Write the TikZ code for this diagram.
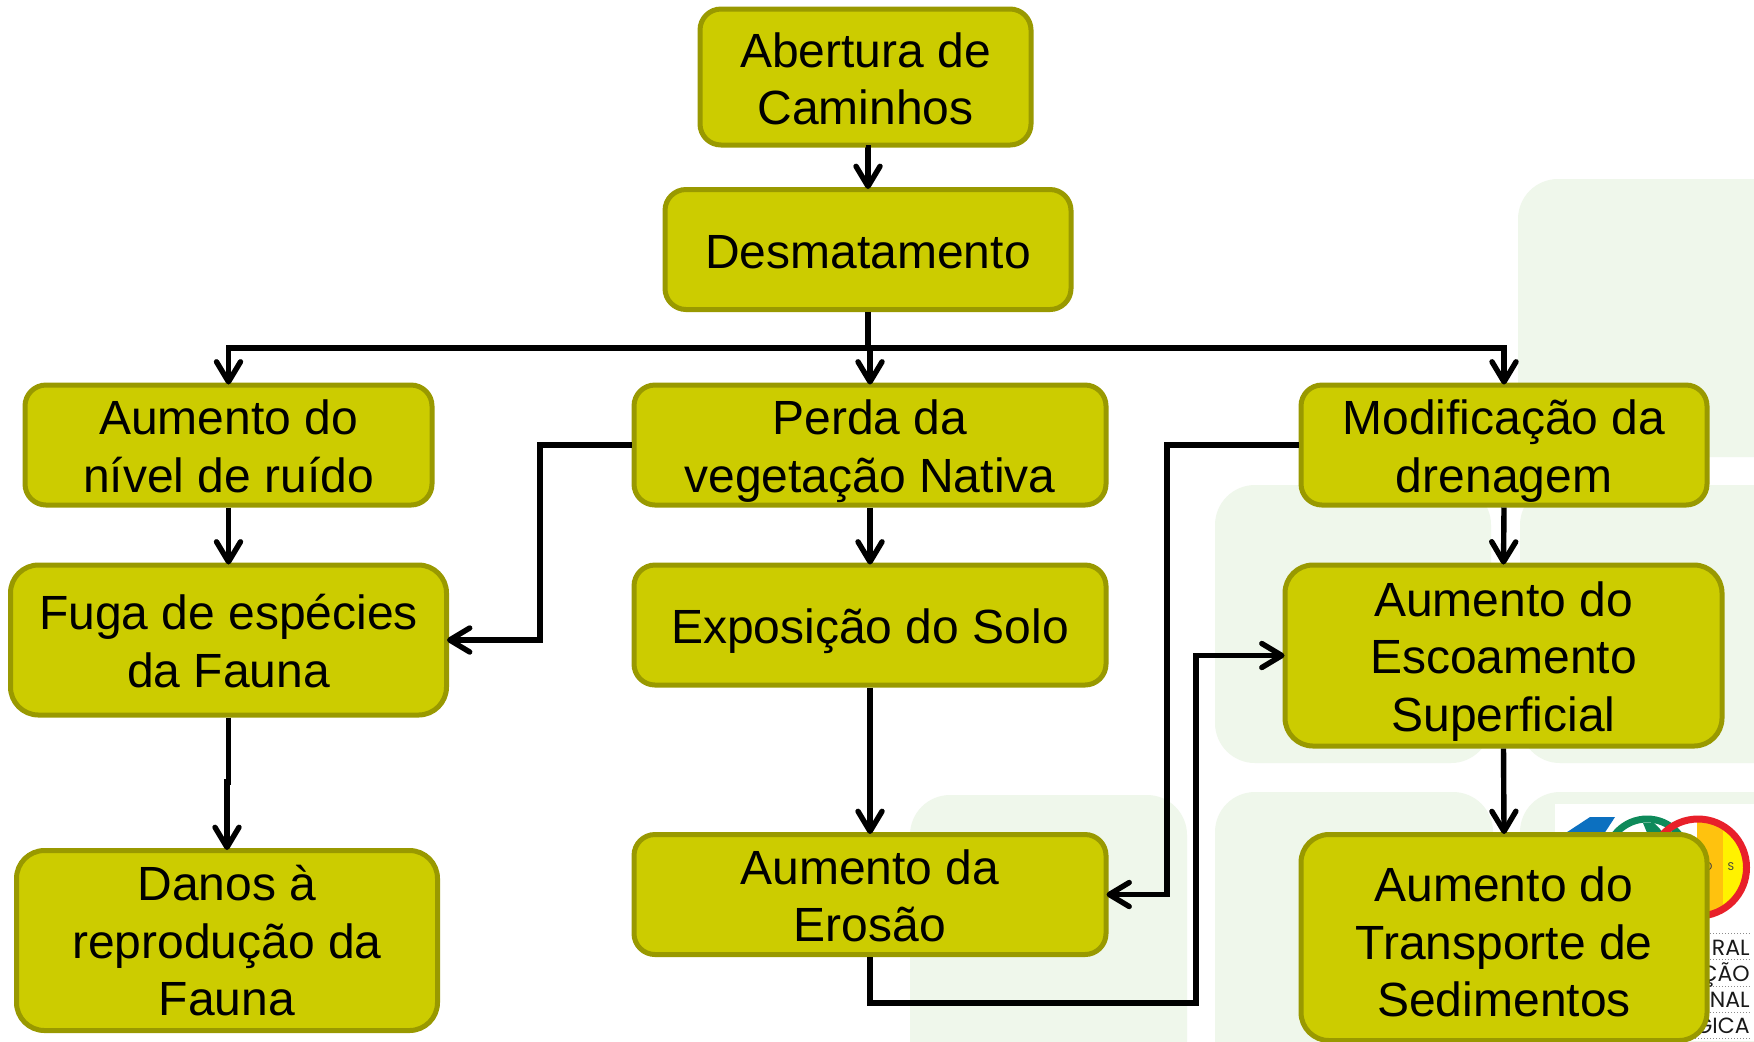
\documentclass[tikz,border=0pt]{standalone}
\usepackage{fontspec}
\setmainfont{Liberation Sans}
\newfontfamily\logofont{Poppins}
\usetikzlibrary{arrows.meta}
\definecolor{boxfill}{HTML}{CCCC00}
\definecolor{boxline}{HTML}{999900}
\definecolor{panelc}{HTML}{EFF7EB}
\definecolor{logoblue}{HTML}{0C70C0}
\definecolor{logogreen}{HTML}{0E8A5A}
\definecolor{logored}{HTML}{E8202A}
\definecolor{logoorange}{HTML}{FFC20E}
\definecolor{logoyellow}{HTML}{FFF200}
% lowers the lines of a box text by #1 without changing the box
\newcommand{\boxlines}[2]{\raisebox{-#1}[\height][\depth]{\begin{tabular}{@{}c@{}}#2\end{tabular}}}
\tikzset{
  x=0.5pt,y=-0.5pt,
  boxnode/.style={draw=boxline,fill=boxfill,line width=2.5pt,inner sep=0pt,
    font=\fontsize{24pt}{28.75pt}\selectfont,text=black},
  small/.style={boxnode,rounded corners=10.5pt},
  large/.style={boxnode,rounded corners=14pt},
  conn/.style={draw=black,line width=2.7pt,shorten >=-1pt,-{Straight Barb[length=10pt,width=12pt,round]}},
  panel/.style={fill=panelc,rounded corners=20pt},
  logotext/.style={anchor=base east,inner sep=0pt,font=\logofont\fontsize{11pt}{12pt}\selectfont,text=black!90},
  logodots/.style={draw=black!45,line width=0.5pt,densely dotted}
}
\begin{document}
\begin{tikzpicture}
\clip (0,0) rectangle (1754,1041);
\fill[white] (0,0) rectangle (1754,1041);
% background panels
\fill[panel] (1518,179) rectangle (1900,457);
\fill[panel] (1215,485) rectangle (1491,763);
\fill[panel] (1520,485) rectangle (1900,763);
\fill[panel] (1215,792) rectangle (1493,1200);
\fill[panel] (1520,792) rectangle (1900,1200);
\fill[panel] (910,795) rectangle (1187,1200);
% logo
\fill[white] (1555,804) rectangle (1760,1041);
\fill[logoblue] (1590,817) -- (1615,817) -- (1600,840) -- (1555,840) -- cycle;
\draw[logogreen,line width=3.5pt] (1647,860) circle (41);
\fill[logogreen] (1643,823) -- (1654,823) -- (1660,829) -- (1668,840) -- (1650,840) -- cycle;
\begin{scope}
\clip (1698,867.5) circle (50);
\fill[logoorange] (1697,810) rectangle (1723,925);
\fill[logoyellow] (1723,810) rectangle (1750,925);
\end{scope}
\draw[logored,line width=3.5pt] (1698,867.5) circle (48.5);
\node[inner sep=0pt,font=\logofont\fontsize{5.6pt}{6pt}\selectfont,text=black!75] (logoO) at (1708,867) {O};
\node[inner sep=0pt,font=\logofont\fontsize{5.6pt}{6pt}\selectfont,text=black!75] (logoS) at (1731,867) {S};
\foreach \yy in {933,959,986,1012,1038} \draw[logodots] (1680,\yy) -- (1752,\yy);
\node[logotext] (lineA) at (1750,955) {RAL};
\node[logotext] (lineB) at (1750,981) {ÇÃO};
\node[logotext] (lineC) at (1750,1007) {NAL};
\node[logotext] (lineD) at (1750,1033) {GICA};
% boxes (sizes are half the pixel sizes, as 1 px = 0.5 pt)
\node[small,minimum width=165.5pt,minimum height=68pt] (abertura) at (865.5,77) {\boxlines{3.7pt}{Abertura de\\Caminhos}};
\node[small,minimum width=203pt,minimum height=60pt] (desm) at (868,249.5) {\boxlines{3.85pt}{Desmatamento}};
\node[small,minimum width=203.5pt,minimum height=60pt] (ruido) at (228.5,445) {\boxlines{3.6pt}{Aumento do\\nível de ruído}};
\node[small,minimum width=236pt,minimum height=60pt] (perda) at (870,445) {\boxlines{3.4pt}{Perda da\\vegetação Nativa}};
\node[small,minimum width=203pt,minimum height=60pt] (modif) at (1504,445) {\boxlines{3.4pt}{Modificação da\\drenagem}};
\node[large,minimum width=218pt,minimum height=75pt] (fuga) at (228.5,640) {\boxlines{3.5pt}{Fuga de espécies\\da Fauna}};
\node[small,minimum width=236pt,minimum height=60pt] (solo) at (870,625) {\boxlines{3.6pt}{Exposição do Solo}};
\node[large,minimum width=218.5pt,minimum height=90.5pt] (escoa) at (1503.5,655.5) {\boxlines{3.3pt}{Aumento do\\Escoamento\\Superficial}};
\node[large,minimum width=210.5pt,minimum height=90pt] (danos) at (227,940.5) {\boxlines{3.2pt}{Danos à\\reprodução da\\Fauna}};
\node[small,minimum width=236pt,minimum height=60pt] (erosao) at (870,894.5) {\boxlines{3.5pt}{Aumento da\\Erosão}};
\node[large,minimum width=203pt,minimum height=103pt] (transp) at (1504,937.5) {\boxlines{5pt}{Aumento do\\Transporte de\\Sedimentos}};
% connectors
\coordinate (bus) at (868,348);
\coordinate (kneeA) at (540,445);
\coordinate (kneeB) at (1167,445);
\coordinate (kneeC) at (1196,1003);
\coordinate (jog) at (228.5,782);
\draw[conn] (abertura.south) -- (abertura.south -| desm.north) -- (desm.north);
\draw[conn] (desm.south) -- (bus) -| (ruido.north);
\draw[conn] (desm.south) -- (bus) -| (modif.north);
\draw[conn] (desm.south) -- (bus) -| (perda.north);
\draw[conn] (ruido.south) -- (fuga.north);
\draw[conn] (fuga.south) -- (jog) -- (jog -| danos.north) -- (danos.north);
\draw[conn] (perda.south) -- (solo.north);
\draw[conn] (solo.south) -- (erosao.north);
\draw[conn] (modif.south) -- (escoa.north);
\draw[conn] (escoa.south) -- (transp.north);
\draw[conn] (perda.west) -| (kneeA) |- (fuga.east);
\draw[conn] (modif.west) -| (kneeB) |- (erosao.east);
\draw[conn] (erosao.south) |- (kneeC) |- (escoa.west);
\end{tikzpicture}
\end{document}
